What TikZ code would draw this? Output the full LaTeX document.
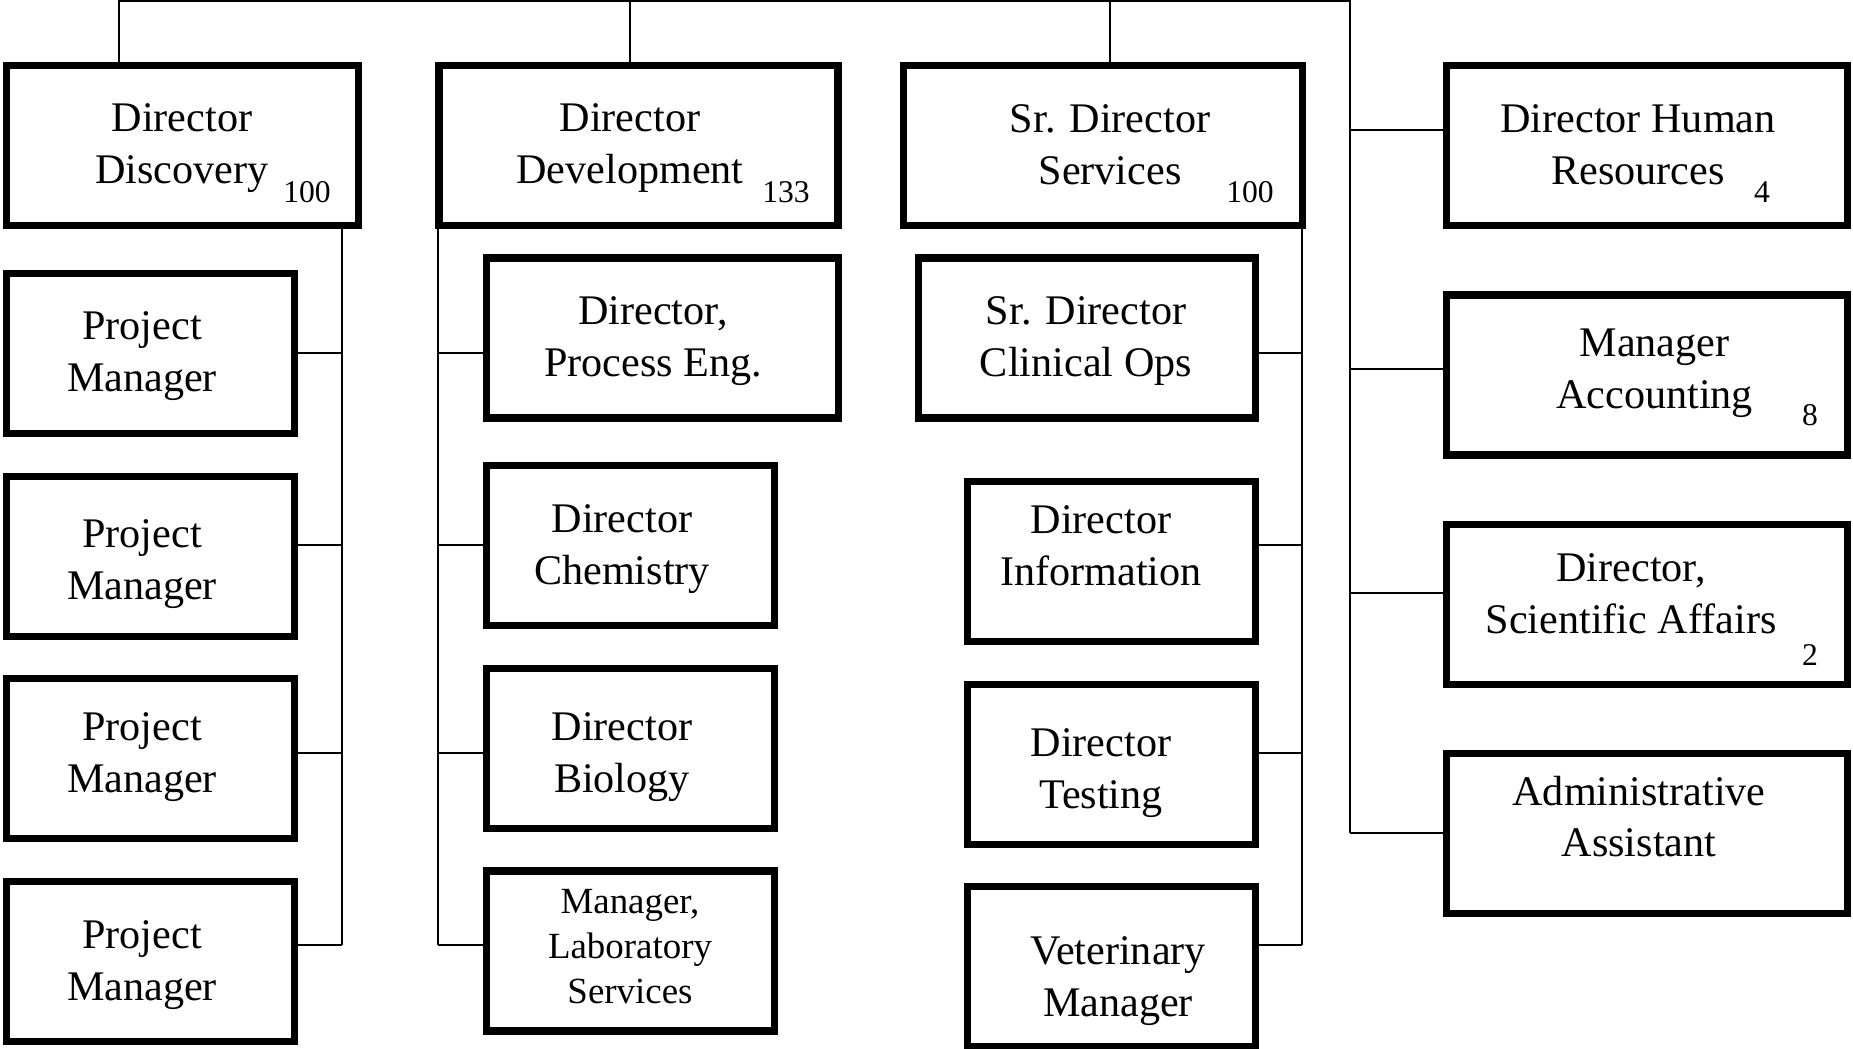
\documentclass[tikz,border=0pt]{standalone}
\usepackage{fontspec}
\setmainfont{Liberation Serif}

\begin{document}
\begin{tikzpicture}[
      box/.style={rectangle, draw, line width=2pt, minimum width=2.88cm, minimum height=1.6cm, inner sep=0pt},
      txt/.style={align=center, font=\fontsize{12}{14.7}\selectfont, inner sep=0pt},
      num/.style={font=\fontsize{9}{10}\selectfont, inner sep=0pt},
      link/.style={line width=0.5pt}]
    \useasboundingbox (0,0) rectangle (18.53,-10.49);
    % heads
    \node[box,minimum width=3.52cm] (disc) at (1.825,-1.455) {};
    \node[txt] (discT) at (1.82,-1.48) {Director\\Discovery};
    \node[num] (discN) at (3.07,-1.92) {100};
    \node[box,minimum width=3.99cm] (dev) at (6.385,-1.455) {};
    \node[txt] (devT) at (6.30,-1.48) {Director\\Development};
    \node[num] (devN) at (7.86,-1.92) {133};
    \node[box,minimum width=3.99cm] (serv) at (11.03,-1.455) {};
    \node[txt] (servT) at (11.10,-1.445) {Sr. Director\\Services};
    \node[num] (servN) at (12.50,-1.92) {100};
    \node[box,minimum width=4.01cm] (hr) at (16.47,-1.455) {};
    \node[txt] (hrT) at (16.38,-1.445) {Director Human\\Resources};
    \node[num] (hrN) at (17.62,-1.92) {4};
    % discovery
    \node[box] (pm1) at (1.505,-3.535) {};
    \node[txt] (pm1T) at (1.42,-3.56) {Project\\Manager};
    \node[box] (pm2) at (1.505,-5.565) {};
    \node[txt] (pm2T) at (1.42,-5.64) {Project\\Manager};
    \node[box] (pm3) at (1.505,-7.585) {};
    \node[txt] (pm3T) at (1.42,-7.57) {Project\\Manager};
    \node[box] (pm4) at (1.505,-9.615) {};
    \node[txt] (pm4T) at (1.42,-9.65) {Project\\Manager};
    % development
    \node[box,minimum width=3.52cm] (proc) at (6.625,-3.38) {};
    \node[txt] (procT) at (6.53,-3.41) {Director,\\Process Eng.};
    \node[box] (chem) at (6.305,-5.455) {};
    \node[txt] (chemT) at (6.22,-5.49) {Director\\Chemistry};
    \node[box] (bio) at (6.305,-7.485) {};
    \node[txt] (bioT) at (6.22,-7.57) {Director\\Biology};
    \node[box] (lab) at (6.305,-9.51) {};
    \node[txt,font=\fontsize{10.5}{12.8}\selectfont] (labT) at (6.30,-9.465) {Manager,\\Laboratory\\Services};
    % services
    \node[box,minimum width=3.37cm] (clin) at (10.87,-3.38) {};
    \node[txt] (clinT) at (10.86,-3.41) {Sr. Director\\Clinical Ops};
    \node[box] (info) at (11.115,-5.615) {};
    \node[txt] (infoT) at (11.01,-5.455) {Director\\Information};
    \node[box] (test) at (11.115,-7.645) {};
    \node[txt] (testT) at (11.01,-7.73) {Director\\Testing};
    \node[box] (vet) at (11.115,-9.665) {};
    \node[txt] (vetT) at (11.18,-9.81) {Veterinary\\Manager};
    % staff
    \node[box,minimum width=4.01cm] (acct) at (16.47,-3.75) {};
    \node[txt] (acctT) at (16.545,-3.73) {Manager\\Accounting};
    \node[num] (acctN) at (18.10,-4.15) {8};
    \node[box,minimum width=4.01cm] (sci) at (16.47,-6.045) {};
    \node[txt] (sciT) at (16.31,-5.935) {Director,\\Scientific Affairs};
    \node[num] (sciN) at (18.10,-6.55) {2};
    \node[box,minimum width=4.01cm] (adm) at (16.47,-8.335) {};
    \node[txt] (admT) at (16.39,-8.165) {Administrative\\Assistant};
    % bus lines
    \coordinate (ceo) at (8.87,0);
    \coordinate (top) at (8.87,-0.01);
    \coordinate (x1) at (1.19,0);
    \coordinate (x2) at (6.30,0);
    \coordinate (x3) at (11.10,0);
    \coordinate (b1) at (3.42,0);
    \coordinate (b2) at (4.38,0);
    \coordinate (b3) at (13.02,0);
    \coordinate (b4) at (13.50,0);
    \coordinate (r1) at (0,-3.53);
    \coordinate (r2) at (0,-5.45);
    \coordinate (r3) at (0,-7.53);
    \coordinate (r4) at (0,-9.45);
    \coordinate (s1) at (0,-1.30);
    \coordinate (s2) at (0,-3.69);
    \coordinate (s3) at (0,-5.93);
    \coordinate (s4) at (0,-8.33);
    \draw[link] (top) -- (ceo);
    \draw[link] (disc.north -| x1) -- (x1 |- top) -- (b4 |- top) -- (b4 |- s4);
    \draw[link] (dev.north -| x2) -- (x2 |- top);
    \draw[link] (serv.north -| x3) -- (x3 |- top);
    \draw[link] (b1 |- disc.south) -- (b1 |- r4);
    \draw[link] (pm1.east |- r1) -- (b1 |- r1);
    \draw[link] (pm2.east |- r2) -- (b1 |- r2);
    \draw[link] (pm3.east |- r3) -- (b1 |- r3);
    \draw[link] (pm4.east |- r4) -- (b1 |- r4);
    \draw[link] (b2 |- dev.south) -- (b2 |- r4);
    \draw[link] (proc.west |- r1) -- (b2 |- r1);
    \draw[link] (chem.west |- r2) -- (b2 |- r2);
    \draw[link] (bio.west |- r3) -- (b2 |- r3);
    \draw[link] (lab.west |- r4) -- (b2 |- r4);
    \draw[link] (b3 |- serv.south) -- (b3 |- r4);
    \draw[link] (clin.east |- r1) -- (b3 |- r1);
    \draw[link] (info.east |- r2) -- (b3 |- r2);
    \draw[link] (test.east |- r3) -- (b3 |- r3);
    \draw[link] (vet.east |- r4) -- (b3 |- r4);
    \draw[link] (hr.west |- s1) -- (b4 |- s1);
    \draw[link] (acct.west |- s2) -- (b4 |- s2);
    \draw[link] (sci.west |- s3) -- (b4 |- s3);
    \draw[link] (adm.west |- s4) -- (b4 |- s4);
\end{tikzpicture}
\end{document}
